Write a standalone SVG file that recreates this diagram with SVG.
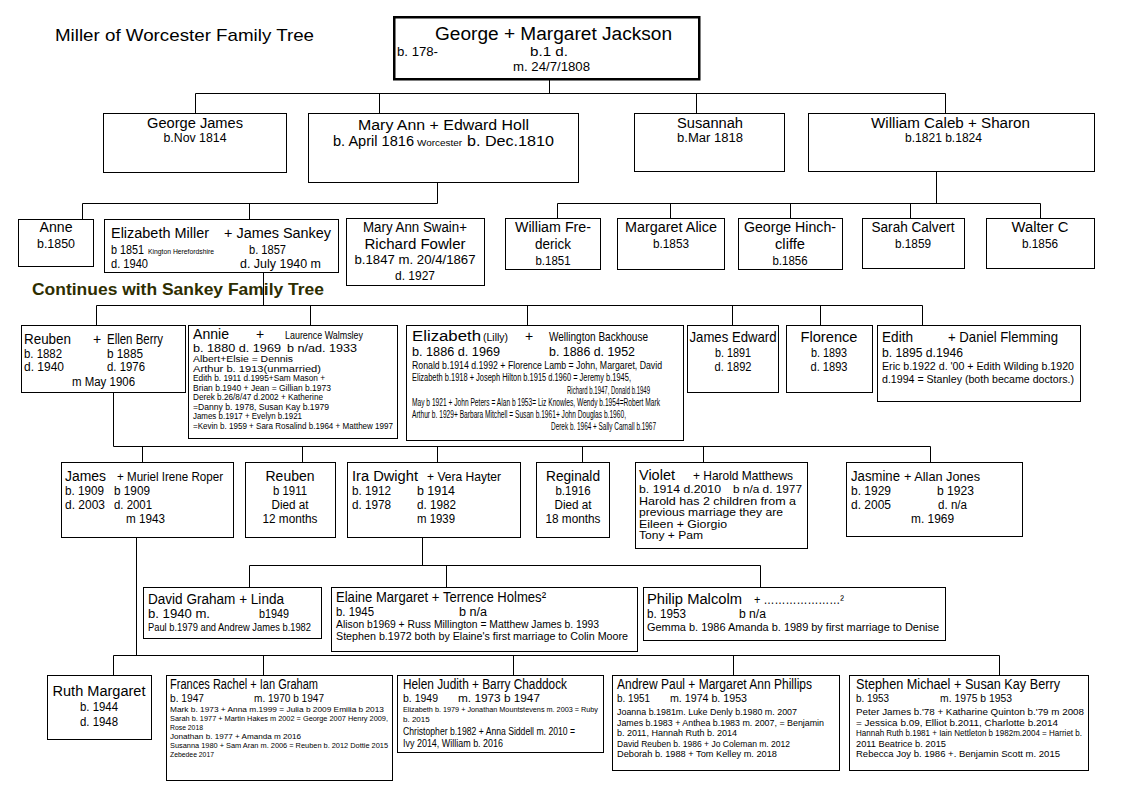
<svg xmlns="http://www.w3.org/2000/svg" width="1126" height="793" viewBox="0 0 1126 793">
<style>
text{font-family:'Liberation Sans',Arial,sans-serif;fill:#000}
.b{fill:#fff;stroke:#000;stroke-width:1}
.c{fill:none;stroke:#000;stroke-width:1}
.s18{font-size:18px}.s17{font-size:17px}.s15{font-size:15px}.s14{font-size:14px}.s13{font-size:13px}.s12{font-size:12px}.s11{font-size:11px}.s10{font-size:10px}.s95{font-size:9.5px}.s9{font-size:9px}.s85{font-size:8.5px}.s8{font-size:8px}.s75{font-size:7.5px}.s7{font-size:7px}.v{font-size:10.2px}
.m{text-anchor:middle}
.cont{font-size:17px;font-weight:bold;fill:#2e2e00}
</style>
<rect width="1126" height="793" fill="#fff"/>
<g id="title"><text class="s17" x="55" y="41" textLength="259" lengthAdjust="spacingAndGlyphs">Miller of Worcester Family Tree</text></g>
<g id="continues"><text class="cont" x="32" y="295" textLength="292" lengthAdjust="spacingAndGlyphs">Continues with Sankey Family Tree</text></g>

<g id="connectors" class="c">
<path d="M549.5 80V93.5M195.5 93.5H945.5M195.5 93.5V113M379.5 93.5V113M696.5 93.5V113M945.5 93.5V113"/>
<path d="M437.5 183V203.5M82.5 203.5H437.5M82.5 203.5V219M249.5 203.5V219"/>
<path d="M936.5 172V203.5M557.5 203.5H1040.5M557.5 203.5V218M670.5 203.5V218M790.5 203.5V218M910.5 203.5V218M1040.5 203.5V218"/>
<path d="M263.5 272V305.5M96.5 305.5H922.5M96.5 305.5V325M310.5 305.5V325M527.5 305.5V325M732.5 305.5V325M820.5 305.5V325M922.5 305.5V325"/>
<path d="M113.5 392V446.5H930.5M142.5 446.5V462M302.5 446.5V462M437.5 446.5V462M582.5 446.5V462M703.5 446.5V462M930.5 446.5V462"/>
<path d="M422.5 537V565.5M249.5 565.5H760.5M249.5 565.5V587M446.5 565.5V587M760.5 565.5V587"/>
<path d="M136.5 537V655.5M113.5 655.5H999.5M113.5 655.5V675M263.5 655.5V675M513.5 655.5V675M733.5 655.5V675M999.5 655.5V675"/>
</g>

<g id="n-george-margaret">
<rect x="394.25" y="17.25" width="305" height="62" fill="#fff" stroke="#000" stroke-width="2.5"/>
<text class="s18" x="435" y="40" textLength="237" lengthAdjust="spacingAndGlyphs">George +  Margaret Jackson</text>
<text class="s12" x="397" y="56" textLength="41" lengthAdjust="spacingAndGlyphs">b. 178-</text>
<text class="s12" x="530" y="56" textLength="38" lengthAdjust="spacingAndGlyphs">b.1  d.</text>
<text class="s12" x="513" y="71" textLength="77" lengthAdjust="spacingAndGlyphs">m. 24/7/1808</text>
</g>

<g id="n-george-james">
<rect class="b" x="103.5" y="113.5" width="183" height="59"/>
<text class="s14 m" x="195" y="128" textLength="96" lengthAdjust="spacingAndGlyphs">George James</text>
<text class="s12 m" x="195" y="142" textLength="63" lengthAdjust="spacingAndGlyphs">b.Nov 1814</text>
</g>
<g id="n-mary-ann">
<rect class="b" x="308.5" y="113.5" width="270" height="69"/>
<text class="s14" x="358" y="130" textLength="171" lengthAdjust="spacingAndGlyphs">Mary Ann  +  Edward  Holl</text>
<text class="s14" x="333" y="146" textLength="81" lengthAdjust="spacingAndGlyphs">b. April 1816</text>
<text class="s9" x="417" y="146" textLength="45" lengthAdjust="spacingAndGlyphs">Worcester</text>
<text class="s14" x="467" y="146" textLength="87" lengthAdjust="spacingAndGlyphs">b. Dec.1810</text>
</g>
<g id="n-susannah">
<rect class="b" x="634.5" y="113.5" width="150" height="58"/>
<text class="s14 m" x="710" y="128" textLength="66" lengthAdjust="spacingAndGlyphs">Susannah</text>
<text class="s12 m" x="710" y="142" textLength="66" lengthAdjust="spacingAndGlyphs">b.Mar 1818</text>
</g>
<g id="n-william-caleb">
<rect class="b" x="808.5" y="113.5" width="286" height="58"/>
<text class="s14" x="871" y="128" textLength="159" lengthAdjust="spacingAndGlyphs">William Caleb  + Sharon</text>
<text class="s12" x="905" y="142" textLength="77" lengthAdjust="spacingAndGlyphs">b.1821     b.1824</text>
</g>

<g id="n-anne">
<rect class="b" x="18.5" y="219.5" width="75" height="47"/>
<text class="s14 m" x="56" y="232" textLength="33" lengthAdjust="spacingAndGlyphs">Anne</text>
<text class="s13 m" x="56" y="248" textLength="38" lengthAdjust="spacingAndGlyphs">b.1850</text>
</g>
<g id="n-elizabeth-miller">
<rect class="b" x="104.5" y="219.5" width="234" height="53"/>
<text class="s14" x="111" y="238" textLength="98" lengthAdjust="spacingAndGlyphs">Elizabeth Miller</text>
<text class="s14" x="224" y="238" textLength="107" lengthAdjust="spacingAndGlyphs">+ James Sankey</text>
<text class="s12" x="111" y="254" textLength="33" lengthAdjust="spacingAndGlyphs">b 1851</text>
<text class="s7" x="148" y="254" textLength="66" lengthAdjust="spacingAndGlyphs">Kington Herefordshire</text>
<text class="s12" x="249" y="254" textLength="37" lengthAdjust="spacingAndGlyphs">b. 1857</text>
<text class="s12" x="111" y="268" textLength="37" lengthAdjust="spacingAndGlyphs">d. 1940</text>
<text class="s12" x="240" y="268" textLength="81" lengthAdjust="spacingAndGlyphs">d. July 1940  m</text>
</g>
<g id="n-mary-ann-swain">
<rect class="b" x="346.5" y="218.5" width="138" height="67"/>
<text class="s14 m" x="415" y="232" textLength="104" lengthAdjust="spacingAndGlyphs">Mary Ann Swain+</text>
<text class="s14 m" x="415" y="249" textLength="101" lengthAdjust="spacingAndGlyphs">Richard Fowler</text>
<text class="s13 m" x="415" y="264" textLength="121" lengthAdjust="spacingAndGlyphs">b.1847 m. 20/4/1867</text>
<text class="s13 m" x="415" y="280" textLength="40" lengthAdjust="spacingAndGlyphs">d. 1927</text>
</g>
<g id="n-william-frederick">
<rect class="b" x="505.5" y="218.5" width="95" height="51"/>
<text class="s14 m" x="553" y="232" textLength="76" lengthAdjust="spacingAndGlyphs">William Fre-</text>
<text class="s14 m" x="553" y="249" textLength="36" lengthAdjust="spacingAndGlyphs">derick</text>
<text class="s13 m" x="553" y="265" textLength="35" lengthAdjust="spacingAndGlyphs">b.1851</text>
</g>
<g id="n-margaret-alice">
<rect class="b" x="617.5" y="218.5" width="107" height="51"/>
<text class="s14 m" x="671" y="232" textLength="92" lengthAdjust="spacingAndGlyphs">Margaret Alice</text>
<text class="s13 m" x="671" y="248" textLength="36" lengthAdjust="spacingAndGlyphs">b.1853</text>
</g>
<g id="n-george-hinchcliffe">
<rect class="b" x="738.5" y="218.5" width="104" height="51"/>
<text class="s14 m" x="790" y="232" textLength="92" lengthAdjust="spacingAndGlyphs">George Hinch-</text>
<text class="s14 m" x="790" y="249" textLength="30" lengthAdjust="spacingAndGlyphs">cliffe</text>
<text class="s13 m" x="790" y="265" textLength="35" lengthAdjust="spacingAndGlyphs">b.1856</text>
</g>
<g id="n-sarah-calvert">
<rect class="b" x="862.5" y="218.5" width="102" height="50"/>
<text class="s14 m" x="913" y="232" textLength="83" lengthAdjust="spacingAndGlyphs">Sarah Calvert</text>
<text class="s13 m" x="913" y="248" textLength="36" lengthAdjust="spacingAndGlyphs">b.1859</text>
</g>
<g id="n-walter-c">
<rect class="b" x="986.5" y="218.5" width="108" height="50"/>
<text class="s14 m" x="1040" y="232" textLength="57" lengthAdjust="spacingAndGlyphs">Walter C</text>
<text class="s13 m" x="1040" y="248" textLength="36" lengthAdjust="spacingAndGlyphs">b.1856</text>
</g>

<g id="n-reuben-ellen">
<rect class="b" x="21.5" y="325.5" width="164" height="67"/>
<text class="s15" x="24" y="344" textLength="47" lengthAdjust="spacingAndGlyphs">Reuben</text>
<text class="s14" x="93" y="344">+</text>
<text class="s14" x="107" y="344" textLength="56" lengthAdjust="spacingAndGlyphs">Ellen Berry</text>
<text class="s12" x="24" y="358" textLength="38" lengthAdjust="spacingAndGlyphs">b. 1882</text>
<text class="s12" x="107" y="358" textLength="36" lengthAdjust="spacingAndGlyphs">b 1885</text>
<text class="s12" x="24" y="371" textLength="40" lengthAdjust="spacingAndGlyphs">d. 1940</text>
<text class="s12" x="107" y="371" textLength="38" lengthAdjust="spacingAndGlyphs">d. 1976</text>
<text class="s12" x="72" y="386" textLength="63" lengthAdjust="spacingAndGlyphs">m May 1906</text>
</g>
<g id="n-annie">
<rect class="b" x="188.5" y="325.5" width="209" height="113"/>
<text class="s14" x="193" y="339" textLength="36" lengthAdjust="spacingAndGlyphs">Annie</text>
<text class="s14" x="256" y="339">+</text>
<text class="s11" x="285" y="339" textLength="78" lengthAdjust="spacingAndGlyphs">Laurence Walmsley</text>
<text class="s11" x="193" y="352" textLength="88" lengthAdjust="spacingAndGlyphs">b. 1880 d. 1969</text>
<text class="s11" x="287" y="352" textLength="70" lengthAdjust="spacingAndGlyphs">b n/ad. 1933</text>
<text class="s85" x="193" y="362" textLength="100" lengthAdjust="spacingAndGlyphs">Albert+Elsie = Dennis</text>
<text class="s85" x="193" y="371.5" textLength="128" lengthAdjust="spacingAndGlyphs">Arthur b. 1913(unmarried)</text>
<text class="s85" x="193" y="381" textLength="132" lengthAdjust="spacingAndGlyphs">Edith b. 1911 d.1995+Sam Mason +</text>
<text class="s85" x="193" y="390.5" textLength="138" lengthAdjust="spacingAndGlyphs">Brian b.1940 + Jean = Gillian b.1973</text>
<text class="s85" x="193" y="400" textLength="130" lengthAdjust="spacingAndGlyphs">Derek b.26/8/47 d.2002 + Katherine</text>
<text class="s85" x="193" y="409.5" textLength="136" lengthAdjust="spacingAndGlyphs">=Danny b. 1978, Susan Kay b.1979</text>
<text class="s85" x="193" y="419" textLength="109" lengthAdjust="spacingAndGlyphs">James b.1917 + Evelyn b.1921</text>
<text class="s85" x="193" y="428.5" textLength="200" lengthAdjust="spacingAndGlyphs">=Kevin b. 1959 + Sara Rosalind b.1964 + Matthew  1997</text>
</g>
<g id="n-elizabeth-lilly">
<rect class="b" x="406.5" y="325.5" width="277" height="115"/>
<text class="s14" x="412" y="341" textLength="69" lengthAdjust="spacingAndGlyphs">Elizabeth</text>
<text class="s11" x="483" y="341" textLength="25" lengthAdjust="spacingAndGlyphs">(Lilly)</text>
<text class="s14" x="525" y="341">+</text>
<text class="s13" x="549" y="341" textLength="99" lengthAdjust="spacingAndGlyphs">Wellington Backhouse</text>
<text class="s13" x="412" y="356" textLength="88" lengthAdjust="spacingAndGlyphs">b. 1886 d. 1969</text>
<text class="s13" x="549" y="356" textLength="86" lengthAdjust="spacingAndGlyphs">b. 1886 d. 1952</text>
<text class="s10" x="412" y="369" textLength="250" lengthAdjust="spacingAndGlyphs">Ronald b.1914 d.1992 + Florence Lamb = John, Margaret, David</text>
<text class="s10" x="412" y="381" textLength="219" lengthAdjust="spacingAndGlyphs">Elizabeth b.1918 + Joseph Hilton b.1915 d.1960 = Jeremy b.1945,</text>
<text class="s10" x="567" y="394" textLength="83" lengthAdjust="spacingAndGlyphs">Richard b.1947, Donald b.1949</text>
<text class="s10" x="412" y="406" textLength="248" lengthAdjust="spacingAndGlyphs">May b 1921 + John Peters = Alan b 1953= Liz Knowles, Wendy b.1954=Robert Mark</text>
<text class="s10" x="412" y="418" textLength="214" lengthAdjust="spacingAndGlyphs">Arthur b. 1929+ Barbara Mitchell = Susan b.1961+ John Douglas b.1960,</text>
<text class="s10" x="551" y="430" textLength="105" lengthAdjust="spacingAndGlyphs">Derek b. 1964 + Sally Carnall b.1967</text>
</g>
<g id="n-james-edward">
<rect class="b" x="687.5" y="325.5" width="91" height="67"/>
<text class="s15 m" x="733" y="342" textLength="87" lengthAdjust="spacingAndGlyphs">James Edward</text>
<text class="s12 m" x="733" y="357" textLength="36" lengthAdjust="spacingAndGlyphs">b. 1891</text>
<text class="s12 m" x="733" y="371" textLength="37" lengthAdjust="spacingAndGlyphs">d. 1892</text>
</g>
<g id="n-florence">
<rect class="b" x="786.5" y="325.5" width="86" height="67"/>
<text class="s15 m" x="829" y="342" textLength="57" lengthAdjust="spacingAndGlyphs">Florence</text>
<text class="s12 m" x="829" y="357" textLength="36" lengthAdjust="spacingAndGlyphs">b. 1893</text>
<text class="s12 m" x="829" y="371" textLength="37" lengthAdjust="spacingAndGlyphs">d. 1893</text>
</g>
<g id="n-edith">
<rect class="b" x="877.5" y="325.5" width="203" height="76"/>
<text class="s15" x="882" y="342" textLength="31" lengthAdjust="spacingAndGlyphs">Edith</text>
<text class="s15" x="948" y="342" textLength="110" lengthAdjust="spacingAndGlyphs">+ Daniel Flemming</text>
<text class="s12" x="882" y="357" textLength="81" lengthAdjust="spacingAndGlyphs">b. 1895 d.1946</text>
<text class="s11" x="882" y="370" textLength="192" lengthAdjust="spacingAndGlyphs">Eric b.1922 d. '00 + Edith Wilding b.1920</text>
<text class="s11" x="882" y="383" textLength="192" lengthAdjust="spacingAndGlyphs">d.1994 = Stanley (both became doctors.)</text>
</g>

<g id="n-james-muriel">
<rect class="b" x="61.5" y="462.5" width="172" height="75"/>
<text class="s14" x="65" y="481" textLength="41" lengthAdjust="spacingAndGlyphs">James</text>
<text class="s13" x="117" y="481" textLength="106" lengthAdjust="spacingAndGlyphs">+ Muriel Irene Roper</text>
<text class="s12" x="65" y="495" textLength="39" lengthAdjust="spacingAndGlyphs">b. 1909</text>
<text class="s12" x="114" y="495" textLength="36" lengthAdjust="spacingAndGlyphs">b 1909</text>
<text class="s12" x="65" y="509" textLength="40" lengthAdjust="spacingAndGlyphs">d. 2003</text>
<text class="s12" x="114" y="509" textLength="38" lengthAdjust="spacingAndGlyphs">d. 2001</text>
<text class="s12" x="126" y="523" textLength="39" lengthAdjust="spacingAndGlyphs">m 1943</text>
</g>
<g id="n-reuben-1911">
<rect class="b" x="245.5" y="462.5" width="90" height="75"/>
<text class="s14 m" x="290" y="481" textLength="49" lengthAdjust="spacingAndGlyphs">Reuben</text>
<text class="s12 m" x="290" y="495" textLength="34" lengthAdjust="spacingAndGlyphs">b 1911</text>
<text class="s12 m" x="290" y="509" textLength="37" lengthAdjust="spacingAndGlyphs">Died at</text>
<text class="s12 m" x="290" y="523" textLength="55" lengthAdjust="spacingAndGlyphs">12 months</text>
</g>
<g id="n-ira-vera">
<rect class="b" x="347.5" y="462.5" width="173" height="75"/>
<text class="s14" x="352" y="481" textLength="66" lengthAdjust="spacingAndGlyphs">Ira Dwight</text>
<text class="s13" x="427" y="481" textLength="74" lengthAdjust="spacingAndGlyphs">+ Vera Hayter</text>
<text class="s12" x="352" y="495" textLength="39" lengthAdjust="spacingAndGlyphs">b. 1912</text>
<text class="s12" x="417" y="495" textLength="38" lengthAdjust="spacingAndGlyphs">b 1914</text>
<text class="s12" x="352" y="509" textLength="39" lengthAdjust="spacingAndGlyphs">d. 1978</text>
<text class="s12" x="417" y="509" textLength="39" lengthAdjust="spacingAndGlyphs">d. 1982</text>
<text class="s12" x="417" y="523" textLength="38" lengthAdjust="spacingAndGlyphs">m 1939</text>
</g>
<g id="n-reginald">
<rect class="b" x="536.5" y="462.5" width="73" height="75"/>
<text class="s14 m" x="573" y="481" textLength="54" lengthAdjust="spacingAndGlyphs">Reginald</text>
<text class="s12 m" x="573" y="495" textLength="35" lengthAdjust="spacingAndGlyphs">b.1916</text>
<text class="s12 m" x="573" y="509" textLength="37" lengthAdjust="spacingAndGlyphs">Died at</text>
<text class="s12 m" x="573" y="523" textLength="55" lengthAdjust="spacingAndGlyphs">18 months</text>
</g>
<g id="n-violet-harold">
<rect class="b" x="635.5" y="462.5" width="172" height="86"/>
<text class="s14" x="639" y="480" textLength="36" lengthAdjust="spacingAndGlyphs">Violet</text>
<text class="s13" x="693" y="480" textLength="100" lengthAdjust="spacingAndGlyphs">+ Harold Matthews</text>
<text class="v" x="639" y="493" textLength="82" lengthAdjust="spacingAndGlyphs">b. 1914 d.2010</text>
<text class="v" x="733" y="493" textLength="69" lengthAdjust="spacingAndGlyphs">b n/a d. 1977</text>
<text class="v" x="639" y="504.5" textLength="157" lengthAdjust="spacingAndGlyphs">Harold has 2 children from a</text>
<text class="v" x="639" y="516" textLength="144" lengthAdjust="spacingAndGlyphs">previous marriage they are</text>
<text class="v" x="639" y="527.5" textLength="88" lengthAdjust="spacingAndGlyphs">Eileen + Giorgio</text>
<text class="v" x="639" y="539" textLength="64" lengthAdjust="spacingAndGlyphs">Tony + Pam</text>
</g>
<g id="n-jasmine-allan">
<rect class="b" x="846.5" y="462.5" width="176" height="74"/>
<text class="s14" x="851" y="481" textLength="49" lengthAdjust="spacingAndGlyphs">Jasmine</text>
<text class="s13" x="904" y="481" textLength="76" lengthAdjust="spacingAndGlyphs">+ Allan Jones</text>
<text class="s12" x="851" y="495" textLength="40" lengthAdjust="spacingAndGlyphs">b. 1929</text>
<text class="s12" x="937" y="495" textLength="37" lengthAdjust="spacingAndGlyphs">b 1923</text>
<text class="s12" x="851" y="509" textLength="40" lengthAdjust="spacingAndGlyphs">d. 2005</text>
<text class="s12" x="938" y="509" textLength="29" lengthAdjust="spacingAndGlyphs">d. n/a</text>
<text class="s12" x="911" y="523" textLength="43" lengthAdjust="spacingAndGlyphs">m. 1969</text>
</g>

<g id="n-david-linda">
<rect class="b" x="143.5" y="587.5" width="178" height="51"/>
<text class="s14" x="148" y="604" textLength="136" lengthAdjust="spacingAndGlyphs">David Graham + Linda</text>
<text class="s12" x="148" y="618" textLength="62" lengthAdjust="spacingAndGlyphs">b. 1940  m.</text>
<text class="s12" x="259" y="618" textLength="30" lengthAdjust="spacingAndGlyphs">b1949</text>
<text class="s10" x="148" y="631" textLength="163" lengthAdjust="spacingAndGlyphs">Paul b.1979 and Andrew James b.1982</text>
</g>
<g id="n-elaine-terrence">
<rect class="b" x="331.5" y="587.5" width="306" height="64"/>
<text class="s14" x="336" y="602" textLength="210" lengthAdjust="spacingAndGlyphs">Elaine Margaret + Terrence Holmes²</text>
<text class="s12" x="336" y="616" textLength="38" lengthAdjust="spacingAndGlyphs">b. 1945</text>
<text class="s12" x="459" y="616" textLength="28" lengthAdjust="spacingAndGlyphs">b n/a</text>
<text class="s10" x="336" y="628" textLength="263" lengthAdjust="spacingAndGlyphs">Alison b1969 + Russ Millington = Matthew James b. 1993</text>
<text class="s10" x="336" y="640" textLength="292" lengthAdjust="spacingAndGlyphs">Stephen b.1972 both by Elaine's first marriage to Colin Moore</text>
</g>
<g id="n-philip">
<rect class="b" x="643.5" y="587.5" width="302" height="53"/>
<text class="s14" x="647" y="604" textLength="95" lengthAdjust="spacingAndGlyphs">Philip Malcolm</text>
<text class="s13" x="754" y="604" textLength="90" lengthAdjust="spacingAndGlyphs">+ …………………²</text>
<text class="s12" x="647" y="618" textLength="39" lengthAdjust="spacingAndGlyphs">b. 1953</text>
<text class="s12" x="739" y="618" textLength="27" lengthAdjust="spacingAndGlyphs">b n/a</text>
<text class="s10" x="647" y="631" textLength="292" lengthAdjust="spacingAndGlyphs">Gemma b. 1986 Amanda b. 1989 by first marriage to Denise</text>
</g>

<g id="n-ruth-margaret">
<rect class="b" x="47.5" y="675.5" width="104" height="64"/>
<text class="s14 m" x="99" y="696" textLength="93" lengthAdjust="spacingAndGlyphs">Ruth Margaret</text>
<text class="s13 m" x="99" y="711" textLength="38" lengthAdjust="spacingAndGlyphs">b. 1944</text>
<text class="s13 m" x="99" y="726" textLength="38" lengthAdjust="spacingAndGlyphs">d. 1948</text>
</g>
<g id="n-frances-ian">
<rect class="b" x="166.5" y="675.5" width="226" height="105"/>
<text class="s14" x="170" y="689" textLength="148" lengthAdjust="spacingAndGlyphs">Frances Rachel +  Ian Graham</text>
<text class="s11" x="170" y="702" textLength="34" lengthAdjust="spacingAndGlyphs">b. 1947</text>
<text class="s11" x="254" y="702" textLength="70" lengthAdjust="spacingAndGlyphs">m. 1970   b 1947</text>
<text class="s8" x="170" y="712" textLength="214" lengthAdjust="spacingAndGlyphs">Mark b. 1973 + Anna m.1999 = Julia b 2009 Emilia b 2013</text>
<text class="s8" x="170" y="721" textLength="218" lengthAdjust="spacingAndGlyphs">Sarah b. 1977 + Martin Hakes m 2002 = George 2007  Henry 2009,</text>
<text class="s8" x="170" y="730" textLength="33" lengthAdjust="spacingAndGlyphs">Rose 2018</text>
<text class="s8" x="170" y="739" textLength="131" lengthAdjust="spacingAndGlyphs">Jonathan b. 1977 + Amanda m 2016</text>
<text class="s8" x="170" y="748" textLength="218" lengthAdjust="spacingAndGlyphs">Susanna 1980 + Sam Aran m. 2006 = Reuben b. 2012 Dottie 2015</text>
<text class="s8" x="170" y="757" textLength="44" lengthAdjust="spacingAndGlyphs">Zebedee 2017</text>
</g>
<g id="n-helen-barry">
<rect class="b" x="397.5" y="675.5" width="206" height="77"/>
<text class="s14" x="403" y="688.5" textLength="164" lengthAdjust="spacingAndGlyphs">Helen Judith +  Barry Chaddock</text>
<text class="s11" x="403" y="701.5" textLength="35" lengthAdjust="spacingAndGlyphs">b. 1949</text>
<text class="s11" x="458" y="701.5" textLength="82" lengthAdjust="spacingAndGlyphs">m. 1973   b 1947</text>
<text class="s8"><tspan x="403" y="712" textLength="195" lengthAdjust="spacingAndGlyphs">Elizabeth b. 1979 + Jonathan Mountstevens m. 2003 = Ruby</tspan><tspan x="403" y="722">b. 2015</tspan></text>
<text class="s10" x="403" y="735" textLength="172" lengthAdjust="spacingAndGlyphs">Christopher b.1982 + Anna Siddell m. 2010 =</text>
<text class="s10" x="403" y="747" textLength="100" lengthAdjust="spacingAndGlyphs">Ivy 2014, William b. 2016</text>
</g>
<g id="n-andrew-margaret">
<rect class="b" x="612.5" y="675.5" width="227" height="95"/>
<text class="s14" x="617" y="689" textLength="195" lengthAdjust="spacingAndGlyphs">Andrew Paul + Margaret Ann Phillips</text>
<text class="s11" x="617" y="702" textLength="33" lengthAdjust="spacingAndGlyphs">b. 1951</text>
<text class="s11" x="670" y="702" textLength="77" lengthAdjust="spacingAndGlyphs">m. 1974  b. 1953</text>
<text class="s95" x="617" y="715" textLength="180" lengthAdjust="spacingAndGlyphs">Joanna b.1981m. Luke Denly b.1980 m. 2007</text>
<text class="s95" x="617" y="725.6" textLength="207" lengthAdjust="spacingAndGlyphs">James b.1983 + Anthea b.1983 m. 2007, = Benjamin</text>
<text class="s95" x="617" y="736.2" textLength="120" lengthAdjust="spacingAndGlyphs">b. 2011, Hannah Ruth b. 2014</text>
<text class="s95" x="617" y="746.8" textLength="173" lengthAdjust="spacingAndGlyphs">David Reuben b. 1986 + Jo Coleman m. 2012</text>
<text class="s95" x="617" y="757.4" textLength="160" lengthAdjust="spacingAndGlyphs">Deborah b. 1988 + Tom Kelley m. 2018</text>
</g>
<g id="n-stephen-susan">
<rect class="b" x="849.5" y="675.5" width="239" height="95"/>
<text class="s14" x="856" y="689" textLength="204" lengthAdjust="spacingAndGlyphs">Stephen Michael + Susan Kay Berry</text>
<text class="s11" x="856" y="702" textLength="33" lengthAdjust="spacingAndGlyphs">b. 1953</text>
<text class="s11" x="940" y="702" textLength="72" lengthAdjust="spacingAndGlyphs">m. 1975   b 1953</text>
<text class="s95" x="856" y="715" textLength="228" lengthAdjust="spacingAndGlyphs">Peter James b.'78 + Katharine Quinton b.'79 m 2008</text>
<text class="s95" x="856" y="725.6" textLength="202" lengthAdjust="spacingAndGlyphs">= Jessica b.09, Elliot b.2011, Charlotte b.2014</text>
<text class="s95" x="856" y="736.2" textLength="226" lengthAdjust="spacingAndGlyphs">Hannah Ruth b.1981 + Iain Nettleton b 1982m.2004 = Harriet b.</text>
<text class="s95" x="856" y="746.8" textLength="90" lengthAdjust="spacingAndGlyphs">2011 Beatrice b. 2015</text>
<text class="s95" x="856" y="757.4" textLength="204" lengthAdjust="spacingAndGlyphs">Rebecca Joy b. 1986 +. Benjamin Scott m. 2015</text>
</g>
</svg>
